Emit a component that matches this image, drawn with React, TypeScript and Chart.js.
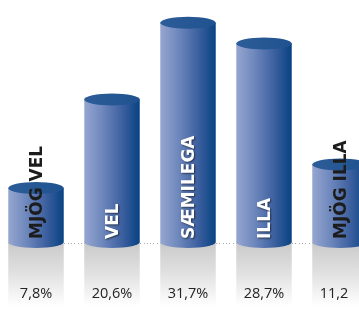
import React, { useEffect, useRef } from "react";
import { Chart, registerables } from "chart.js";

Chart.register(...registerables);

const categories = ["MJÖG VEL", "VEL", "SÆMILEGA", "ILLA", "MJÖG ILLA"];
const values = [7.8, 20.6, 31.7, 28.7, 11.2];
const valueLabels = ["7,8%", "20,6%", "31,7%", "28,7%", "11,2%"];

const BAR_FRACTION = 0.73;
const RY = 6;

function bodyGradient(ctx: CanvasRenderingContext2D, cx: number, w: number) {
  const g = ctx.createLinearGradient(cx - w / 2, 0, cx + w / 2, 0);
  g.addColorStop(0, "#96a6d0");
  g.addColorStop(0.35, "#6b85bb");
  g.addColorStop(0.7, "#3a5e9e");
  g.addColorStop(1, "#074282");
  return g;
}

const cylinderPlugin = {
  id: "cylinders",
  beforeDatasetsDraw(chart: any) {
    const ctx: CanvasRenderingContext2D = chart.ctx;
    const base = chart.scales.y.getPixelForValue(0);
    const meta = chart.getDatasetMeta(0);
    ctx.save();
    ctx.fillStyle = "#a8a8a8";
    const first = meta.data[0].getProps(["x", "width"], true);
    const startX = first.x - first.width / 2;
    for (let x = startX; x < chart.chartArea.right; x += 3.3) {
      ctx.fillRect(Math.round(x), Math.round(base) + 1, 1, 1);
    }
    meta.data.forEach((bar: any) => {
      const { x, width } = bar.getProps(["x", "width"], true);
      const g = ctx.createLinearGradient(0, base, 0, base + 64);
      g.addColorStop(0, "#c9c9c9");
      g.addColorStop(0.55, "#e4e4e4");
      g.addColorStop(1, "#ffffff");
      ctx.fillStyle = g;
      ctx.fillRect(x - width / 2, base, width, 64);
    });
    ctx.restore();
  },
  afterDatasetsDraw(chart: any) {
    const ctx: CanvasRenderingContext2D = chart.ctx;
    const base = chart.scales.y.getPixelForValue(0);
    const meta = chart.getDatasetMeta(0);
    meta.data.forEach((bar: any, i: number) => {
      const { x, y, width } = bar.getProps(["x", "y", "width"], true);
      const rx = width / 2;
      ctx.save();
      ctx.beginPath();
      ctx.ellipse(x, base, rx, RY, 0, 0, Math.PI);
      ctx.closePath();
      ctx.fillStyle = bodyGradient(ctx, x, width);
      ctx.fill();
      ctx.beginPath();
      ctx.ellipse(x, y, rx, RY, 0, 0, Math.PI * 2);
      const tg = ctx.createLinearGradient(x - rx, 0, x + rx, 0);
      tg.addColorStop(0, "#2d5d98");
      tg.addColorStop(1, "#1f5290");
      ctx.fillStyle = tg;
      ctx.fill();

      ctx.font = "bold 17px 'DejaVu Sans'";
      const label = categories[i];
      const tw = ctx.measureText(label).width;
      const fits = tw + 10 < base - y;
      ctx.translate(x + 6.2, base - 3);
      ctx.rotate(-Math.PI / 2);
      ctx.textAlign = "left";
      ctx.textBaseline = "alphabetic";
      if (fits) {
        ctx.shadowColor = "rgba(0,0,0,0.55)";
        ctx.shadowBlur = 2;
        ctx.shadowOffsetX = 1;
        ctx.shadowOffsetY = 1;
        ctx.fillStyle = "#ffffff";
      } else {
        ctx.fillStyle = "#1c1c1c";
      }
      ctx.fillText(label, 0, 0);
      ctx.restore();

      ctx.save();
      ctx.beginPath();
      ctx.rect(0, 250, 351, 60);
      ctx.clip();
      ctx.font = "14.5px 'Open Sans'";
      ctx.fillStyle = "#242424";
      ctx.textAlign = "center";
      ctx.textBaseline = "alphabetic";
      ctx.fillText(valueLabels[i], x, 298);
      ctx.restore();
    });
  },
};

export default function App() {
  const ref = useRef<HTMLCanvasElement>(null);
  useEffect(() => {
    if (!ref.current) return;
    const chart = new Chart(ref.current, {
      type: "bar",
      data: {
        labels: categories,
        datasets: [
          {
            data: values,
            backgroundColor: (c: any) => {
              const ch = c.chart;
              const xs = ch.scales && ch.scales.x;
              if (!xs || !xs.width || c.dataIndex === undefined) return "#4a6aa8";
              const cx = xs.getPixelForValue(c.dataIndex);
              const w = (xs.width / categories.length) * BAR_FRACTION;
              return bodyGradient(ch.ctx, cx, w);
            },
            borderWidth: 0,
            categoryPercentage: 1,
            barPercentage: BAR_FRACTION,
          },
        ],
      },
      options: {
        responsive: false,
        animation: false,
        devicePixelRatio: 1,
        layout: { padding: { top: 0, bottom: 67, left: 0, right: 0 } },
        plugins: { legend: { display: false }, tooltip: { enabled: false } },
        scales: {
          x: { display: false, offset: true },
          y: { display: false, min: 0, max: 35 },
        },
      },
      plugins: [cylinderPlugin],
    });
    return () => chart.destroy();
  }, []);
  return (
    <div
      style={{
        position: "absolute",
        left: 0,
        top: 0,
        width: 359,
        height: 309,
        overflow: "hidden",
        background: "#ffffff",
      }}
    >
      <canvas ref={ref} width={380} height={309} style={{ position: "absolute", left: -2, top: 0 }} />
    </div>
  );
}
